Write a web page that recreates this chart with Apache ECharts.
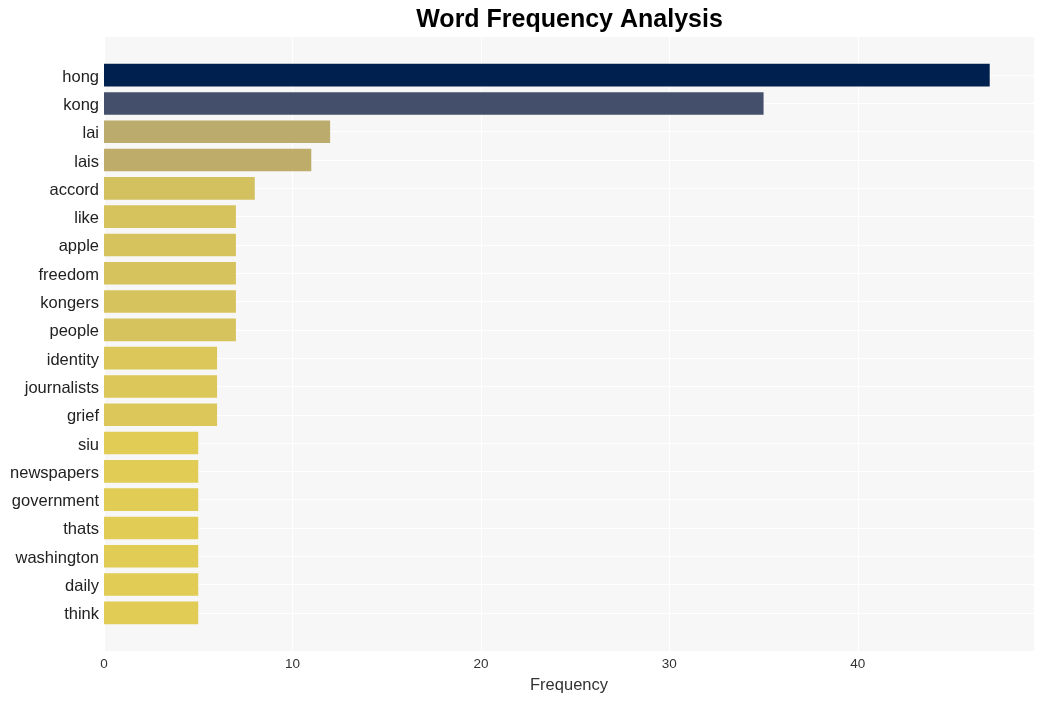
<!DOCTYPE html>
<html><head><meta charset="utf-8">
<script src="https://cdn.jsdelivr.net/npm/echarts@6/dist/echarts.min.js"></script>
<style>html,body{margin:0;padding:0;background:#fff}#c{width:1044px;height:701px}</style>
</head><body><div id="c"></div>
<script>
const words = ["hong","kong","lai","lais","accord","like","apple","freedom","kongers","people","identity","journalists","grief","siu","newspapers","government","thats","washington","daily","think"];
const counts = [47,35,12,11,8,7,7,7,7,7,6,6,6,5,5,5,5,5,5,5];
const colorByCount = {47:"#00204f",35:"#444f6b",12:"#bbab6c",11:"#bdac6a",8:"#d3c05f",7:"#d7c35d",6:"#dcc75a",5:"#e1cc55"};
const xTicks = [0,10,20,30,40];
const xMax = 49.35;
const FONT = 'Liberation Sans, Arial, sans-serif';

const chart = echarts.init(document.getElementById('c'), null, {renderer:'canvas'});
const L = 104, R = 1044-1034;
chart.setOption({
  animation:false,
  graphic:[{type:'text', x:569.5, y:20, style:{text:"Word Frequency Analysis",
    align:'center', verticalAlign:'middle',
    font:'bold 25px ' + FONT, fill:'#000'}}],
  grid:[
    {left:L, right:R, top:37, bottom:701-651, show:true, backgroundColor:'#f7f7f7', borderWidth:0},
    {left:L, right:R, top:75, bottom:701-613, show:false},
    {left:L, right:R, top:61, bottom:701-627, show:false},
    {left:L, right:R, top:63, bottom:701-629, show:false}
  ],
  xAxis:[
    {gridIndex:0, type:'value', min:0, max:xMax, interval:10,
     axisLine:{show:false}, axisTick:{show:false},
     axisLabel:{color:'#333', fontSize:13.5, margin:6, fontFamily:FONT,
       formatter:v=>xTicks.includes(v)?String(v):''},
     splitLine:{show:true, lineStyle:{color:'#ffffff', width:1}},
     name:'Frequency', nameLocation:'middle', nameGap:26,
     nameTextStyle:{color:'#333', fontSize:16.5, fontFamily:FONT}},
    {gridIndex:1, type:'value', min:0, max:xMax, show:false},
    {gridIndex:2, type:'value', min:0, max:xMax, show:false},
    {gridIndex:3, type:'value', min:0, max:xMax, show:false}
  ],
  yAxis:[
    {gridIndex:0, type:'value', show:false, splitLine:{show:false}},
    {gridIndex:1, type:'category', data:words, inverse:true, boundaryGap:false,
     axisLine:{show:false}, axisTick:{show:false}, axisLabel:{show:false},
     splitLine:{show:true, lineStyle:{color:'#ffffff', width:1}}},
    {gridIndex:2, type:'category', data:words, inverse:true,
     axisLine:{show:false}, axisTick:{show:false}, splitLine:{show:false},
     axisLabel:{show:false}},
    {gridIndex:3, type:'category', data:words, inverse:true,
     axisLine:{show:false}, axisTick:{show:false}, splitLine:{show:false},
     axisLabel:{color:'#222', fontSize:16.5, margin:5, fontFamily:FONT}}
  ],
  series:[{
    type:'bar', xAxisIndex:2, yAxisIndex:2, barWidth:'80%',
    data:counts.map(v=>({value:v, itemStyle:{color:colorByCount[v]}}))
  }]
});
</script></body></html>
